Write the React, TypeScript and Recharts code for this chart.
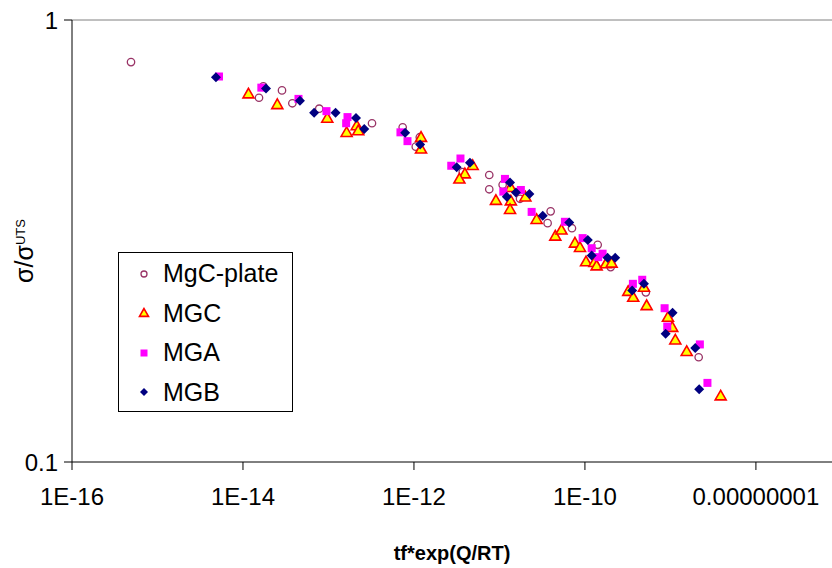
import React from 'react';
import { ScatterChart, Scatter, XAxis, YAxis, ReferenceLine, Legend } from 'recharts';

// [tf*exp(Q/RT), sigma/sigmaUTS] pairs
const mgcPlate: [number, number][] = [
  [4.9e-16, 0.803], [1.54e-14, 0.667], [1.73e-14, 0.708], [2.86e-14, 0.693],
  [3.78e-14, 0.648], [7.8e-14, 0.63], [3.23e-13, 0.584], [7.38e-13, 0.572],
  [1.05e-12, 0.517], [1.17e-12, 0.543], [3.72e-12, 0.453], [7.6e-12, 0.446],
  [7.6e-12, 0.414], [1.09e-11, 0.424], [1.74e-11, 0.394], [3.97e-11, 0.369],
  [3.66e-11, 0.347], [7.05e-11, 0.338], [1.41e-10, 0.31], [2.0e-10, 0.276],
  [5.16e-10, 0.242], [2.14e-9, 0.1726],
];

const mgc: [number, number][] = [
  [1.16e-14, 0.681], [2.52e-14, 0.644], [9.68e-14, 0.6], [1.63e-13, 0.557],
  [2.14e-13, 0.577], [2.23e-13, 0.562], [1.21e-12, 0.543], [1.21e-12, 0.511],
  [4.86e-12, 0.469], [3.94e-12, 0.449], [3.4e-12, 0.437], [9.1e-12, 0.391],
  [1.35e-11, 0.418], [1.36e-11, 0.39], [1.33e-11, 0.373], [2.01e-11, 0.398],
  [2.72e-11, 0.354], [4.5e-11, 0.3246], [5.31e-11, 0.335], [7.64e-11, 0.313],
  [8.75e-11, 0.306], [1.03e-10, 0.284], [1.29e-10, 0.283], [1.37e-10, 0.278],
  [1.76e-10, 0.281], [2.05e-10, 0.282], [3.21e-10, 0.2434], [3.67e-10, 0.236],
  [4.9e-10, 0.2486], [5.27e-10, 0.226], [9.35e-10, 0.2127], [1.05e-9, 0.2018],
  [1.14e-9, 0.189], [1.55e-9, 0.178], [3.87e-9, 0.1412],
];

const mga: [number, number][] = [
  [5.24e-15, 0.745], [1.64e-14, 0.703], [4.46e-14, 0.663], [9.48e-14, 0.622],
  [1.67e-13, 0.603], [1.61e-13, 0.584], [6.95e-13, 0.557], [8.4e-13, 0.532],
  [3.5e-12, 0.486], [2.73e-12, 0.468], [1.16e-11, 0.437], [1.11e-11, 0.409],
  [1.78e-11, 0.4125], [2.38e-11, 0.368], [5.83e-11, 0.3495], [9.4e-11, 0.321],
  [1.2e-10, 0.3046], [1.61e-10, 0.296], [1.43e-10, 0.2907], [4.68e-10, 0.2584],
  [3.64e-10, 0.253], [8.55e-10, 0.2228], [9.18e-10, 0.2025], [2.21e-9, 0.1845],
  [2.71e-9, 0.151],
];

const mgb: [number, number][] = [
  [4.83e-15, 0.742], [1.86e-14, 0.7], [4.64e-14, 0.657], [6.8e-14, 0.617],
  [1.21e-13, 0.617], [2.1e-13, 0.6], [2.62e-13, 0.567], [7.89e-13, 0.556],
  [1.18e-12, 0.523], [3.16e-12, 0.4645], [4.52e-12, 0.4752], [1.33e-11, 0.429],
  [1.22e-11, 0.398], [1.56e-11, 0.407], [2.24e-11, 0.404], [3.21e-11, 0.3607],
  [6.55e-11, 0.348], [1.08e-10, 0.318], [1.2e-10, 0.2933], [1.84e-10, 0.2897],
  [2.26e-10, 0.2897], [4.9e-10, 0.253], [3.57e-10, 0.2444], [1.06e-9, 0.2176],
  [8.79e-10, 0.195], [1.95e-9, 0.181], [2.17e-9, 0.146],
];

const xTicks = [1e-16, 1e-14, 1e-12, 1e-10, 1e-8];
const xTickLabels = ['1E-16', '1E-14', '1E-12', '1E-10', '0.00000001'];
const yTicks = [0.1, 1];
const yTickLabels = ['0.1', '1'];

const X_MAX = Math.pow(10, -7.11);
const FONT = '"Liberation Sans", Arial, sans-serif';

const toPoints = (arr: [number, number][]) => arr.map(([x, y]) => ({ x, y }));

const labelFor = (ticks: number[], labels: string[]) => (v: number) => {
  const i = ticks.findIndex((t) => Math.abs(Math.log10(t) - Math.log10(v)) < 1e-6);
  return i >= 0 ? labels[i] : '';
};

const CircleMark = ({ cx, cy, r = 3.7 }: any) => (
  <circle cx={cx} cy={cy} r={r} fill="none" stroke="#993366" strokeWidth={1.3} />
);
const TriangleMark = ({ cx, cy, s = 5.5 }: any) => (
  <polygon
    points={`${cx},${cy - s} ${cx - s},${cy + s * 0.75} ${cx + s},${cy + s * 0.75}`}
    fill="#ffff00"
    stroke="#ff0000"
    strokeWidth={1.6}
  />
);
const SquareMark = ({ cx, cy, s = 4 }: any) => (
  <rect x={cx - s} y={cy - s} width={s * 2} height={s * 2} fill="#ff00ff" />
);
const DiamondMark = ({ cx, cy, s = 5 }: any) => (
  <polygon points={`${cx},${cy - s} ${cx + s},${cy} ${cx},${cy + s} ${cx - s},${cy}`} fill="#000080" />
);

const series = [
  { name: 'MgC-plate', data: mgcPlate, Mark: CircleMark, legendSize: { r: 3 } },
  { name: 'MGC', data: mgc, Mark: TriangleMark, legendSize: { s: 4.5 } },
  { name: 'MGA', data: mga, Mark: SquareMark, legendSize: { s: 3.5 } },
  { name: 'MGB', data: mgb, Mark: DiamondMark, legendSize: { s: 4 } },
];

const LegendBox = () => (
  <div
    style={{
      width: 173,
      height: 158,
      border: '1px solid #000',
      background: '#fff',
      fontFamily: FONT,
      fontSize: 25,
      color: '#000',
    }}
  >
    {series.map(({ name, Mark, legendSize }) => (
      <div key={name} style={{ display: 'flex', alignItems: 'center', height: 39.5, marginTop: name === 'MgC-plate' ? 1 : 0 }}>
        <svg width={44} height={20} style={{ flexShrink: 0 }}>
          <Mark cx={25} cy={10} {...legendSize} />
        </svg>
        <span>{name}</span>
      </div>
    ))}
  </div>
);

const YLabel = () => (
  <text
    x={24}
    y={251}
    transform="rotate(-90, 24, 251)"
    textAnchor="middle"
    dominantBaseline="central"
    fontFamily={FONT}
    fontSize={25}
    fill="#000"
  >
    σ/σ
    <tspan fontSize={13} dy={-4}>UTS</tspan>
  </text>
);

const XLabel = ({ viewBox }: any) => (
  <text
    x={viewBox.x + viewBox.width / 2}
    y={viewBox.y + 98}
    textAnchor="middle"
    fontFamily={FONT}
    fontSize={20}
    fontWeight="bold"
    fill="#000"
  >
    tf*exp(Q/RT)
  </text>
);

export default function App() {
  return (
    <div style={{ position: 'absolute', left: 0, top: 0, width: 832, height: 568, overflow: 'hidden', background: '#fff' }}>
      <ScatterChart width={832} height={568} margin={{ top: 20, right: 0, bottom: 0, left: 0 }}>
        <ReferenceLine y={1} stroke="#808080" />
        <XAxis
          dataKey="x"
          type="number"
          scale="log"
          domain={[1e-16, X_MAX]}
          allowDataOverflow
          ticks={xTicks}
          interval={0}
          tickFormatter={labelFor(xTicks, xTickLabels)}
          tick={{ fill: '#000', fontSize: 24, fontFamily: FONT }}
          tickLine={{ stroke: '#000' }}
          axisLine={{ stroke: '#000' }}
          tickSize={8}
          tickMargin={18}
          height={106}
          label={{ content: <XLabel /> }}
        />
        <YAxis
          dataKey="y"
          type="number"
          scale="log"
          domain={[0.1, 1]}
          allowDataOverflow
          ticks={yTicks}
          interval={0}
          tickFormatter={labelFor(yTicks, yTickLabels)}
          tick={{ fill: '#000', fontSize: 24, fontFamily: FONT }}
          tickLine={{ stroke: '#000' }}
          axisLine={{ stroke: '#000' }}
          tickSize={8}
          tickMargin={6}
          width={72}
          label={{ content: <YLabel /> }}
        />
        {series.map(({ name, data, Mark }) => (
          <Scatter
            key={name}
            name={name}
            data={toPoints(data)}
            shape={(p: any) => <Mark cx={p.cx} cy={p.cy} />}
            isAnimationActive={false}
          />
        ))}
        <Legend
          layout="vertical"
          align="center"
          verticalAlign="middle"
          content={() => <LegendBox />}
          wrapperStyle={{ position: 'absolute', left: 118, top: 252, width: 175, height: 160 }}
        />
      </ScatterChart>
    </div>
  );
}
